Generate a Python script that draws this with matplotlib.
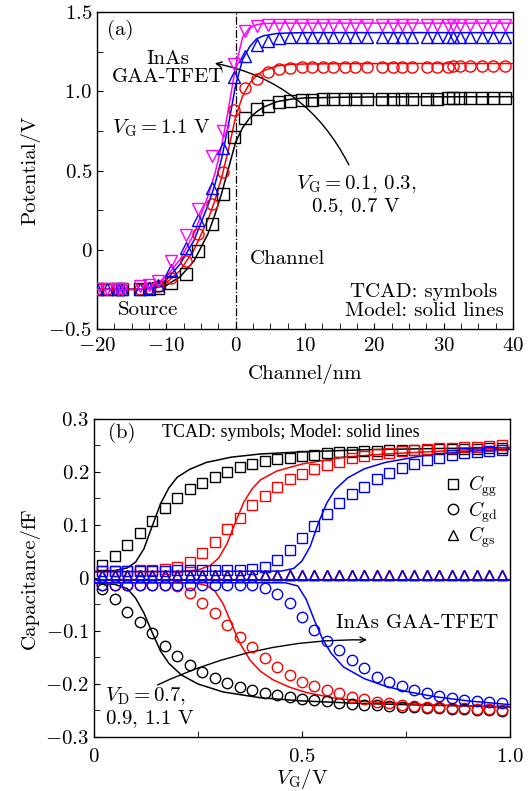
import matplotlib
matplotlib.use("Agg")
import matplotlib.pyplot as plt
import numpy as np
from matplotlib.ticker import MultipleLocator, FuncFormatter
from matplotlib.lines import Line2D

plt.rcParams['font.family'] = 'serif'
plt.rcParams['font.serif'] = ['cmr10', 'DejaVu Serif']
plt.rcParams['mathtext.fontset'] = 'cm'
plt.rcParams['axes.unicode_minus'] = False
plt.rcParams['axes.linewidth'] = 1.0

# ---------------- panel (a): potential along the channel ----------------
x_tcad = [-20.0, -18.5, -17.0, -16.4, -13.8, -12.5, -11.2, -9.3, -7.2, -5.4, -3.4, -1.9,
          -0.3, 1.4, 3.1, 4.7, 6.2, 7.8, 9.6, 11.0, 12.6, 14.1, 15.8, 17.2, 19.0, 21.1,
          22.7, 24.0, 25.5, 27.6, 29.1, 30.6, 31.4, 32.4, 33.8, 35.6, 37.1, 38.9]
pot_01 = [-0.25, -0.25, -0.25, -0.25, -0.25, -0.245, -0.24, -0.21, -0.15, -0.01, 0.16, 0.35,
          0.71, 0.83, 0.89, 0.91, 0.93, 0.94, 0.945, 0.948, 0.95, 0.95, 0.95, 0.95, 0.952, 0.952,
          0.952, 0.953, 0.953, 0.954, 0.954, 0.955, 0.955, 0.955, 0.956, 0.956, 0.957, 0.957]
pot_03 = [-0.25, -0.25, -0.25, -0.25, -0.25, -0.24, -0.23, -0.18, -0.07, 0.10, 0.29, 0.49,
          0.88, 1.02, 1.08, 1.12, 1.14, 1.145, 1.15, 1.15, 1.152, 1.152, 1.153, 1.153, 1.154, 1.154,
          1.155, 1.155, 1.155, 1.156, 1.156, 1.156, 1.157, 1.157, 1.157, 1.158, 1.158, 1.158]
pot_05 = [-0.25, -0.25, -0.25, -0.25, -0.245, -0.24, -0.22, -0.13, 0.01, 0.19, 0.39, 0.64,
          1.09, 1.22, 1.29, 1.32, 1.335, 1.34, 1.342, 1.343, 1.344, 1.344, 1.345, 1.345, 1.345, 1.345,
          1.345, 1.345, 1.345, 1.345, 1.345, 1.345, 1.345, 1.345, 1.345, 1.345, 1.345, 1.345]
pot_07 = [-0.25, -0.25, -0.25, -0.25, -0.23, -0.22, -0.20, -0.07, 0.09, 0.26, 0.59, 0.75,
          1.17, 1.38, 1.41, 1.42, 1.42, 1.42, 1.42, 1.42, 1.42, 1.42, 1.42, 1.42, 1.42, 1.42,
          1.42, 1.42, 1.42, 1.42, 1.42, 1.42, 1.42, 1.42, 1.42, 1.42, 1.42, 1.42]

x_model = [-20, -14, -12, -10, -8, -6, -4, -3, -2, -1, 0, 1, 2, 3, 4, 6, 8, 10, 15, 20, 30, 40]
mod_01 = [-0.25, -0.25, -0.245, -0.225, -0.17, -0.07, 0.10, 0.22, 0.36, 0.52, 0.68, 0.77, 0.83,
          0.87, 0.90, 0.935, 0.95, 0.958, 0.962, 0.964, 0.965, 0.966]
mod_03 = [-0.25, -0.25, -0.24, -0.21, -0.13, 0.0, 0.19, 0.31, 0.46, 0.64, 0.84, 0.97, 1.05,
          1.10, 1.13, 1.16, 1.17, 1.172, 1.174, 1.175, 1.175, 1.175]
mod_05 = [-0.25, -0.25, -0.235, -0.19, -0.09, 0.06, 0.28, 0.41, 0.58, 0.80, 1.04, 1.20, 1.28,
          1.33, 1.35, 1.365, 1.368, 1.37, 1.37, 1.37, 1.37, 1.37]
mod_07 = [-0.25, -0.25, -0.23, -0.17, -0.06, 0.10, 0.34, 0.48, 0.66, 0.90, 1.16, 1.34, 1.40,
          1.42, 1.427, 1.43, 1.43, 1.43, 1.43, 1.43, 1.43, 1.43]

# ---------------- panel (b): capacitances vs V_G ----------------
vg = np.linspace(0.02, 0.98, 33)
cgg_07 = [0.025, 0.041, 0.062, 0.085, 0.107, 0.132, 0.151, 0.168, 0.179, 0.191, 0.200, 0.209,
          0.215, 0.221, 0.225, 0.227, 0.230, 0.233, 0.236, 0.237, 0.238, 0.239, 0.240, 0.241,
          0.241, 0.242, 0.242, 0.243, 0.243, 0.244, 0.244, 0.245, 0.245]
cgg_09 = [0.014, 0.014, 0.014, 0.015, 0.015, 0.017, 0.021, 0.030, 0.047, 0.068, 0.092, 0.113,
          0.138, 0.155, 0.172, 0.187, 0.196, 0.206, 0.213, 0.219, 0.226, 0.230, 0.234, 0.236,
          0.240, 0.241, 0.243, 0.245, 0.246, 0.247, 0.248, 0.249, 0.250]
cgg_11 = [0.014, 0.014, 0.014, 0.014, 0.014, 0.014, 0.015, 0.015, 0.015, 0.015, 0.015, 0.016,
          0.017, 0.021, 0.034, 0.053, 0.075, 0.098, 0.121, 0.141, 0.158, 0.172, 0.187, 0.198,
          0.208, 0.215, 0.223, 0.227, 0.232, 0.236, 0.238, 0.240, 0.241]
cgd_07 = [-0.021, -0.040, -0.064, -0.083, -0.104, -0.128, -0.147, -0.164, -0.177, -0.189, -0.198,
          -0.206, -0.211, -0.217, -0.221, -0.225, -0.228, -0.231, -0.233, -0.235, -0.237, -0.239,
          -0.240, -0.241, -0.243, -0.244, -0.245, -0.246, -0.247, -0.248, -0.249, -0.250, -0.251]
cgd_09 = [-0.013, -0.013, -0.013, -0.013, -0.013, -0.013, -0.016, -0.028, -0.047, -0.066, -0.089,
          -0.111, -0.130, -0.151, -0.168, -0.183, -0.196, -0.204, -0.211, -0.217, -0.224, -0.228,
          -0.234, -0.236, -0.240, -0.241, -0.243, -0.244, -0.245, -0.246, -0.247, -0.248, -0.249]
cgd_11 = [-0.013, -0.013, -0.013, -0.013, -0.013, -0.013, -0.013, -0.013, -0.013, -0.013, -0.013,
          -0.013, -0.014, -0.018, -0.030, -0.047, -0.074, -0.098, -0.119, -0.136, -0.155, -0.170,
          -0.187, -0.196, -0.204, -0.211, -0.217, -0.223, -0.226, -0.230, -0.232, -0.234, -0.235]
cgs_07 = [0.005, 0.005, 0.005, 0.005, 0.005, 0.005, 0.005, 0.005, 0.005, 0.005, 0.005, 0.005,
          0.005, 0.005, 0.005, 0.005, 0.005, 0.005, 0.005, 0.005, 0.005, 0.005, 0.005, 0.005,
          0.005, 0.005, 0.005, 0.005, 0.005, 0.005, 0.005, 0.005, 0.005]
cgs_09 = cgs_07
cgs_11 = cgs_07

# model lines, one x list per curve
xm_gg07 = [0, 0.05, 0.08, 0.10, 0.12, 0.14, 0.16, 0.18, 0.20, 0.23, 0.27, 0.33, 0.40, 0.50, 0.65, 0.80, 1.0]
ym_gg07 = [0.012, 0.014, 0.019, 0.030, 0.055, 0.098, 0.140, 0.170, 0.190, 0.205, 0.218, 0.228,
           0.234, 0.238, 0.242, 0.244, 0.246]
xm_gg09 = [0, 0.20, 0.25, 0.28, 0.30, 0.32, 0.34, 0.36, 0.38, 0.40, 0.44, 0.50, 0.60, 0.70, 0.80, 1.0]
ym_gg09 = [0.012, 0.012, 0.015, 0.024, 0.038, 0.065, 0.105, 0.143, 0.168, 0.185, 0.202, 0.215,
           0.228, 0.234, 0.238, 0.246]
xm_gg11 = [0, 0.45, 0.48, 0.50, 0.52, 0.54, 0.56, 0.58, 0.61, 0.65, 0.70, 0.80, 0.90, 1.0]
ym_gg11 = [0.012, 0.013, 0.018, 0.032, 0.060, 0.105, 0.142, 0.167, 0.189, 0.206, 0.218, 0.232,
           0.239, 0.243]
xm_gd07 = [0, 0.05, 0.08, 0.10, 0.12, 0.14, 0.16, 0.18, 0.21, 0.25, 0.31, 0.40, 0.50, 0.65, 0.80, 1.0]
ym_gd07 = [-0.010, -0.012, -0.020, -0.038, -0.066, -0.103, -0.138, -0.161, -0.183, -0.200, -0.215,
           -0.226, -0.232, -0.237, -0.240, -0.243]
xm_gd09 = [0, 0.24, 0.27, 0.29, 0.31, 0.33, 0.35, 0.375, 0.40, 0.43, 0.47, 0.51, 0.58, 0.65, 0.80, 1.0]
ym_gd09 = [-0.009, -0.009, -0.014, -0.024, -0.048, -0.085, -0.122, -0.155, -0.176, -0.192, -0.206,
           -0.216, -0.227, -0.233, -0.239, -0.244]
xm_gd11 = [0, 0.46, 0.49, 0.51, 0.53, 0.55, 0.57, 0.60, 0.65, 0.70, 0.75, 0.82, 0.90, 1.0]
ym_gd11 = [-0.009, -0.009, -0.015, -0.040, -0.080, -0.116, -0.142, -0.168, -0.190, -0.204, -0.214,
           -0.224, -0.232, -0.239]
xm_gs = [0, 1.0]
ym_gs = [-0.004, -0.004]

colors_a = ['black', '#ff0000', '#0000ff', '#ff00ff']
colors_b = ['black', '#ff0000', '#0000ff']


def fmt_dec(v, pos):
    if abs(v) < 1e-9:
        return '$0$'
    return '$%.1f$' % v


def fmt_int(v, pos):
    return '$%d$' % round(v)


fig = plt.figure(figsize=(5.31, 7.91), dpi=100)

# ---------- (a) ----------
ax1 = fig.add_axes([0.1827, 0.5841, 0.7834, 0.4007])
ax1.axvline(0, color='black', lw=0.9, ls='-.', zorder=1)
pots = [pot_01, pot_03, pot_05, pot_07]
mods = [mod_01, mod_03, mod_05, mod_07]
marks = ['s', 'o', '^', 'v']
for pot, mod, c, m in zip(pots, mods, colors_a, marks):
    ax1.plot(x_model, mod, color=c, lw=1.1, zorder=3)
    ax1.plot(x_tcad, pot, ls='none', marker=m, ms=8, mfc='none', mec=c, mew=1.0, zorder=4)

ax1.set_xlim(-20, 40)
ax1.set_ylim(-0.5, 1.5)
ax1.xaxis.set_major_locator(MultipleLocator(10))
ax1.xaxis.set_minor_locator(MultipleLocator(2.5))
ax1.yaxis.set_major_locator(MultipleLocator(0.5))
ax1.yaxis.set_minor_locator(MultipleLocator(0.25))
ax1.xaxis.set_major_formatter(FuncFormatter(fmt_int))
ax1.yaxis.set_major_formatter(FuncFormatter(fmt_dec))
ax1.tick_params(which='both', direction='in', top=False, right=False, length=4, labelsize=15)
ax1.tick_params(axis='x', pad=6)
ax1.set_xlabel('Channel/nm', fontsize=15, labelpad=6)
ax1.set_ylabel('Potential/V', fontsize=15, labelpad=6)

ax1.text(0.024, 0.975, '(a)', transform=ax1.transAxes, fontsize=15, ha='left', va='top')
ax1.text(0.171, 0.822, 'InAs\nGAA-TFET', transform=ax1.transAxes, fontsize=15,
         ha='center', va='center', linespacing=1.0)
ax1.text(0.036, 0.634, r'$V_{\rm G} = 1.1$ V', transform=ax1.transAxes, fontsize=15,
         ha='left', va='center')
ax1.text(0.623, 0.42, '$V_{\\rm G} = 0.1$, $0.3$,\n$0.5$, $0.7$ V', transform=ax1.transAxes,
         fontsize=15, ha='center', va='center', linespacing=1.1)
ax1.text(0.368, 0.221, 'Channel', transform=ax1.transAxes, fontsize=15, ha='left', va='center')
ax1.text(0.05, 0.06, 'Source', transform=ax1.transAxes, fontsize=15, ha='left', va='center')
ax1.text(0.786, 0.087, 'TCAD: symbols\nModel: solid lines', transform=ax1.transAxes,
         fontsize=15, ha='center', va='center', linespacing=1.05)
ax1.annotate('', xy=(-3.4, 1.18), xytext=(16.5, 0.52),
             arrowprops=dict(arrowstyle='->', color='black', lw=1.0,
                             connectionstyle='arc3,rad=0.25'))

# ---------- (b) ----------
ax2 = fig.add_axes([0.177, 0.0683, 0.7834, 0.402])
xm_gg = [xm_gg07, xm_gg09, xm_gg11]
ym_gg = [ym_gg07, ym_gg09, ym_gg11]
xm_gd = [xm_gd07, xm_gd09, xm_gd11]
ym_gd = [ym_gd07, ym_gd09, ym_gd11]
cggs = [cgg_07, cgg_09, cgg_11]
cgds = [cgd_07, cgd_09, cgd_11]
cgss = [cgs_07, cgs_09, cgs_11]
for i, c in enumerate(colors_b):
    ax2.plot(xm_gg[i], ym_gg[i], color=c, lw=1.1, zorder=3)
    ax2.plot(xm_gd[i], ym_gd[i], color=c, lw=1.1, zorder=3)
    ax2.plot(xm_gs, ym_gs, color=c, lw=1.1, zorder=3)
for i, c in enumerate(colors_b):
    ax2.plot(vg, cggs[i], ls='none', marker='s', ms=7, mfc='none', mec=c, mew=1.0, zorder=4)
    ax2.plot(vg, cgds[i], ls='none', marker='o', ms=7.5, mfc='none', mec=c, mew=1.0, zorder=4)
    ax2.plot(vg, cgss[i], ls='none', marker='^', ms=7.5, mfc='none', mec=c, mew=1.0, zorder=4)

ax2.set_xlim(0, 1.0)
ax2.set_ylim(-0.3, 0.3)
ax2.xaxis.set_major_locator(MultipleLocator(0.5))
ax2.xaxis.set_minor_locator(MultipleLocator(0.25))
ax2.yaxis.set_major_locator(MultipleLocator(0.1))
ax2.yaxis.set_minor_locator(MultipleLocator(0.05))
ax2.xaxis.set_major_formatter(FuncFormatter(fmt_dec))
ax2.yaxis.set_major_formatter(FuncFormatter(fmt_dec))
ax2.tick_params(which='both', direction='in', top=False, right=False, length=4, labelsize=15)
ax2.tick_params(axis='x', pad=8)
ax2.set_xlabel(r'$V_{\rm G}$/V', fontsize=15, labelpad=1)
ax2.set_ylabel('Capacitance/fF', fontsize=15, labelpad=4)

ax2.text(0.034, 0.956, '(b)', transform=ax2.transAxes, fontsize=15, ha='left', va='center')
ax2.text(0.472, 0.956, 'TCAD: symbols; Model: solid lines', transform=ax2.transAxes,
         fontsize=13, ha='center', va='center', family='Liberation Serif')
ax2.text(0.778, 0.358, 'InAs GAA-TFET', transform=ax2.transAxes, fontsize=15,
         ha='center', va='center')
ax2.text(0.026, 0.093, '$V_{\\rm D} = 0.7$,\n$0.9$, $1.1$ V', transform=ax2.transAxes,
         fontsize=15, ha='left', va='center', linespacing=1.1)
ax2.annotate('', xy=(0.663, -0.117), xytext=(0.147, -0.204),
             arrowprops=dict(arrowstyle='->', color='black', lw=1.0,
                             connectionstyle='arc3,rad=-0.12'))

handles = [Line2D([], [], ls='none', marker='s', ms=7, mfc='none', mec='black', mew=1.0),
           Line2D([], [], ls='none', marker='o', ms=7.5, mfc='none', mec='black', mew=1.0),
           Line2D([], [], ls='none', marker='^', ms=7.5, mfc='none', mec='black', mew=1.0)]
labels = [r'$C_{\rm gg}$', r'$C_{\rm gd}$', r'$C_{\rm gs}$']
ax2.legend(handles, labels, loc='center right', bbox_to_anchor=(1.0, 0.708), frameon=False,
           fontsize=14, handlelength=0.8, handletextpad=0.4, labelspacing=0.0,
           borderaxespad=0.2)

fig.savefig('out.png', dpi=100)
